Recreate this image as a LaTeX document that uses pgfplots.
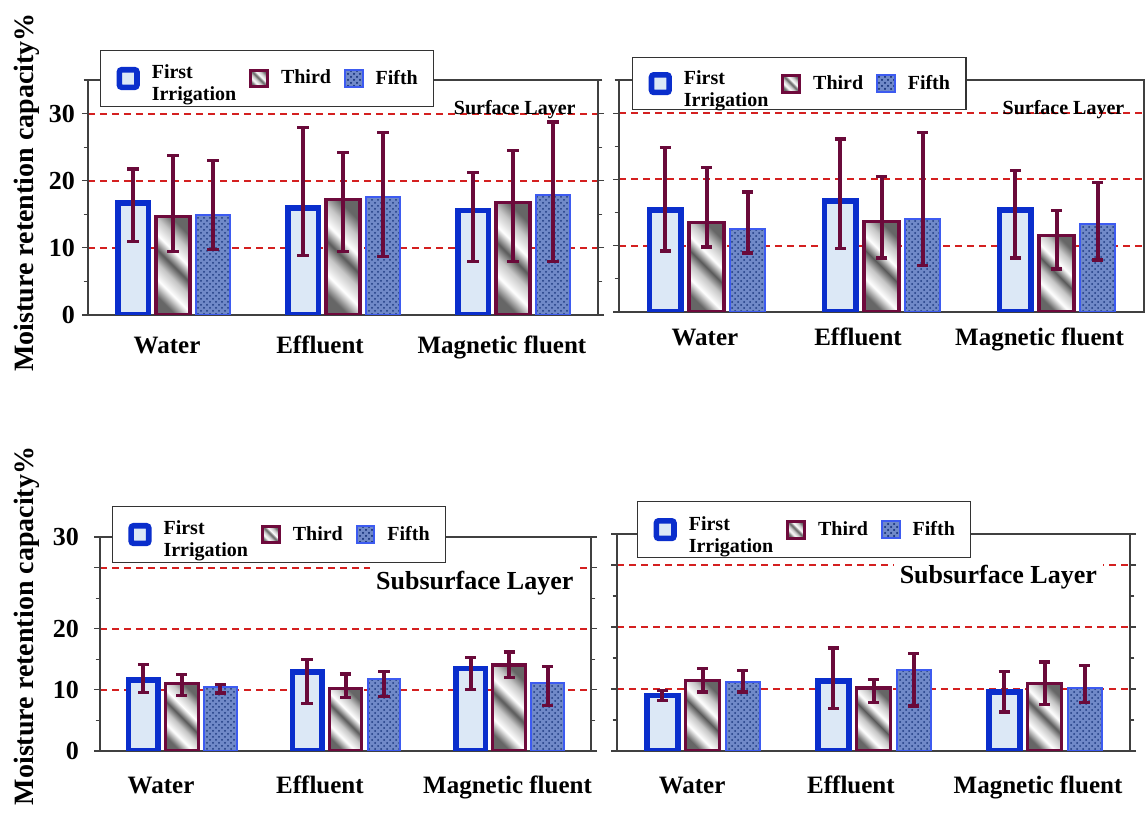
\documentclass[border=0pt]{standalone}
\usepackage{fontspec}
\setmainfont{Liberation Serif}
\usepackage{pgfplots}
\usepackage{pgfplotstable}
\pgfplotsset{compat=1.18}
\usetikzlibrary{patterns}
\definecolor{firstblue}{HTML}{0A2ECC}
\definecolor{firstfill}{HTML}{DCE8F6}
\definecolor{maroon}{HTML}{6E0A3C}
\definecolor{errc}{HTML}{6A0A3A}
\definecolor{fifthfill}{HTML}{7089C8}
\definecolor{fifthdark}{HTML}{1E3A80}
\definecolor{fifthedge}{HTML}{3D5BF0}
\definecolor{gridred}{HTML}{D42020}
\pgfdeclarehorizontalshading{metal}{100bp}{color(0bp)=(black!60); color(25bp)=(black!60); color(34bp)=(white); color(43bp)=(gray!45); color(50bp)=(black!65); color(58bp)=(white); color(67bp)=(gray!45); color(75bp)=(black!60); color(100bp)=(black!60)}

\pgfplotstableread{
x f fp fm t tp tm v vp vm
0 16.7 5.05 5.7 14.7 9.1 5.3 14.9 8.1 5.15
1 15.9 12.0 7.0 17.25 6.9 7.85 17.5 9.65 8.75
2 15.55 5.65 7.55 16.75 7.8 8.75 17.8 10.95 9.8
}\TLdata
\pgfplotstableread{
x f fp fm t tp tm v vp vm
0 15.4 9.4 6.2 13.5 8.3 3.7 12.5 5.6 3.6
1 16.75 9.35 7.15 13.7 6.8 5.55 14.0 13.1 7.0
2 15.4 5.9 7.25 11.55 3.75 5.05 13.3 6.2 5.45
}\TRdata
\pgfplotstableread{
x f fp fm t tp tm v vp vm
0 11.65 2.55 2.05 11.0 1.5 1.93 10.4 0.5 0.9
1 12.95 2.05 5.2 10.2 2.4 1.45 11.85 1.1 2.9
2 13.5 1.75 3.5 14.05 2.15 2.05 11.2 2.6 3.8
}\BLdata
\pgfplotstableread{
x f fp fm t tp tm v vp vm
0 8.95 0.8 0.75 11.4 1.85 1.9 11.15 1.85 1.65
1 11.25 5.35 4.35 10.15 1.35 2.35 13.0 2.7 5.75
2 9.55 3.3 3.25 10.85 3.5 3.35 10.2 3.6 2.4
}\BRdata

\pgfplotsset{
  errs/.style={error bars/y dir=both, error bars/y explicit,
    error bars/error bar style={draw=errc, line width=2pt},
    error bars/error mark=|,
    error bars/error mark options={draw=errc, line width=1.6pt, mark size=2.8pt}},
  firstbar/.style={ybar, bar width=0.18, bar shift=0, draw=firstblue, line width=2.8pt, fill=firstfill, errs,
    legend image code/.code={\draw[draw=firstblue, line width=2.8pt, fill=firstfill, rounded corners=1.2pt] (0pt,-4.4pt) rectangle (8.8pt,4.4pt);}},
  thirdbar/.style={ybar, bar width=0.2, bar shift=0, draw=maroon, line width=1.6pt, shading=metal, shading angle=45, errs,
    legend image code/.code={\draw[draw=maroon, line width=1.5pt, shading=metal, shading angle=45] (0pt,-4.2pt) rectangle (8.4pt,4.2pt);}},
  fifthbar/.style={ybar, bar width=0.2, bar shift=0, draw=fifthedge, line width=1pt, fill=fifthfill,
    postaction={pattern=crosshatch dots, pattern color=fifthdark}, errs,
    legend image code/.code={\draw[draw=fifthedge, line width=1pt, fill=fifthfill, postaction={pattern=crosshatch dots, pattern color=fifthdark}] (0pt,-4.4pt) rectangle (8.8pt,4.4pt);}},
  panel/.style={scale only axis, anchor=south west,
    xmin=-0.5, xmax=2.5, ymin=0, ymax=35,
    axis line style={black!75, line width=0.6pt},
    tick align=outside, major tick length=3pt, minor tick length=2.2pt,
    tick style={black!75, line width=0.6pt},
    x tick style={draw=none},
    xticklabels={Water,Effluent,Magnetic fluent},
    xticklabel style={font=\bfseries\fontsize{12.5}{13}\selectfont, anchor=base},
    yticklabel style={font=\bfseries\fontsize{13}{13}\selectfont},
    ymajorgrids,
    major grid style={draw=gridred, dash pattern=on 3.5pt off 2.5pt, line width=1pt},
    legend columns=3,
    legend cell align=left,
    legend style={draw=black!80, line width=0.6pt, fill=white, anchor=north west,
      font=\bfseries\fontsize{10}{11}\selectfont, inner xsep=8pt, inner ysep=6.5pt,
      nodes={inner sep=0pt},
      /tikz/every odd column/.append style={column sep=6pt},
      /tikz/every even column/.append style={column sep=6.5pt}},
  },
  toppanel/.style={panel, ytick={10,20,30}, yticklabels={10,20,30}, minor ytick={5,15,25,35},
    extra y ticks={0}, extra y tick labels={0}, extra y tick style={grid=none}},
  botpanel/.style={panel, ytick={10,20,30}, yticklabels={10,20,{}}, minor ytick={5,15,25},
    extra y ticks={0,35}, extra y tick labels={0,30}, extra y tick style={grid=none}},
}

\begin{document}
\begin{tikzpicture}
\useasboundingbox (0,0) rectangle (572.5pt,409pt);

% ---------- top left
\begin{axis}[toppanel, at={(44pt,251.5pt)}, width=255pt, height=117.5pt,
  xtick={-0.035,0.865,1.935}, xticklabel style={yshift=-16.5pt},
  legend style={at={(0.0235,1.128)}}]
\addplot[firstbar] table[x expr=\thisrow{x}-0.235,y=f,y error plus=fp,y error minus=fm]{\TLdata};
\addlegendentry{\begin{tabular}[c]{@{}l@{}}First\\Irrigation\end{tabular}}
\addplot[thirdbar, skip coords between index={1}{3}] table[x=x,y=t,y error plus=tp,y error minus=tm]{\TLdata};
\addlegendentry{Third}
\addplot[thirdbar, forget plot, skip coords between index={0}{1}, skip coords between index={2}{3}] table[x=x,y=t,y error plus=tp,y error minus=tm]{\TLdata};
\addplot[thirdbar, forget plot, skip coords between index={0}{2}] table[x=x,y=t,y error plus=tp,y error minus=tm]{\TLdata};
\addplot[fifthbar] table[x expr=\thisrow{x}+0.235,y=v,y error plus=vp,y error minus=vm]{\TLdata};
\addlegendentry{Fifth}
\node[font=\bfseries\fontsize{10}{11}\selectfont, anchor=base] at (axis cs:2.01,29.85) {Surface Layer};
\end{axis}

% ---------- top right
\begin{axis}[toppanel, at={(309.5pt,253pt)}, width=262.5pt, height=116pt,
  yticklabels={}, extra y tick labels={}, xtick={-0.009,0.866,1.903}, xticklabel style={yshift=-14pt},
  legend style={at={(0.025,1.099)}, inner ysep=5.5pt}]
\addplot[firstbar] table[x expr=\thisrow{x}-0.235,y=f,y error plus=fp,y error minus=fm]{\TRdata};
\addlegendentry{\begin{tabular}[c]{@{}l@{}}First\\Irrigation\end{tabular}}
\addplot[thirdbar, skip coords between index={1}{3}] table[x=x,y=t,y error plus=tp,y error minus=tm]{\TRdata};
\addlegendentry{Third}
\addplot[thirdbar, forget plot, skip coords between index={0}{1}, skip coords between index={2}{3}] table[x=x,y=t,y error plus=tp,y error minus=tm]{\TRdata};
\addplot[thirdbar, forget plot, skip coords between index={0}{2}] table[x=x,y=t,y error plus=tp,y error minus=tm]{\TRdata};
\addplot[fifthbar] table[x expr=\thisrow{x}+0.235,y=v,y error plus=vp,y error minus=vm]{\TRdata};
\addlegendentry{Fifth}
\node[font=\bfseries\fontsize{10}{11}\selectfont, anchor=base] at (axis cs:2.04,29.85) {Surface Layer};
\end{axis}

% ---------- bottom left
\begin{axis}[botpanel, at={(50pt,33.5pt)}, width=245.5pt, height=107pt,
  xtick={-0.127,0.844,1.99}, xticklabel style={yshift=-18.5pt},
  yticklabel style={xshift=-4pt},
  legend style={at={(0.024,1.145)}}]
\addplot[firstbar] table[x expr=\thisrow{x}-0.235,y=f,y error plus=fp,y error minus=fm]{\BLdata};
\addlegendentry{\begin{tabular}[c]{@{}l@{}}First\\Irrigation\end{tabular}}
\addplot[thirdbar, skip coords between index={1}{3}] table[x=x,y=t,y error plus=tp,y error minus=tm]{\BLdata};
\addlegendentry{Third}
\addplot[thirdbar, forget plot, skip coords between index={0}{1}, skip coords between index={2}{3}] table[x=x,y=t,y error plus=tp,y error minus=tm]{\BLdata};
\addplot[thirdbar, forget plot, skip coords between index={0}{2}] table[x=x,y=t,y error plus=tp,y error minus=tm]{\BLdata};
\addplot[fifthbar] table[x expr=\thisrow{x}+0.235,y=v,y error plus=vp,y error minus=vm]{\BLdata};
\addlegendentry{Fifth}
\node[font=\bfseries\fontsize{13}{14}\selectfont, fill=white, inner xsep=3pt, inner ysep=4pt] at (axis cs:1.79,27.5) {Subsurface Layer};
\end{axis}

% ---------- bottom right
\begin{axis}[botpanel, at={(308.5pt,33.5pt)}, width=256.5pt, height=108.5pt,
  yticklabels={}, extra y tick labels={}, xtick={-0.061,0.868,1.962}, xticklabel style={yshift=-18.5pt},
  legend style={at={(0.039,1.152)}}]
\addplot[firstbar] table[x expr=\thisrow{x}-0.235,y=f,y error plus=fp,y error minus=fm]{\BRdata};
\addlegendentry{\begin{tabular}[c]{@{}l@{}}First\\Irrigation\end{tabular}}
\addplot[thirdbar, skip coords between index={1}{3}] table[x=x,y=t,y error plus=tp,y error minus=tm]{\BRdata};
\addlegendentry{Third}
\addplot[thirdbar, forget plot, skip coords between index={0}{1}, skip coords between index={2}{3}] table[x=x,y=t,y error plus=tp,y error minus=tm]{\BRdata};
\addplot[thirdbar, forget plot, skip coords between index={0}{2}] table[x=x,y=t,y error plus=tp,y error minus=tm]{\BRdata};
\addplot[fifthbar] table[x expr=\thisrow{x}+0.235,y=v,y error plus=vp,y error minus=vm]{\BRdata};
\addlegendentry{Fifth}
\node[font=\bfseries\fontsize{13}{14}\selectfont, fill=white, inner xsep=3pt, inner ysep=4pt] at (axis cs:1.73,28.1) {Subsurface Layer};
\end{axis}

\node[rotate=90, anchor=base, font=\bfseries\fontsize{14}{14}\selectfont] at (16.5pt,312.75pt) {Moisture retention capacity\%};
\node[rotate=90, anchor=base, font=\bfseries\fontsize{14}{14}\selectfont] at (16.5pt,96pt) {Moisture retention capacity\%};
\end{tikzpicture}
\end{document}
